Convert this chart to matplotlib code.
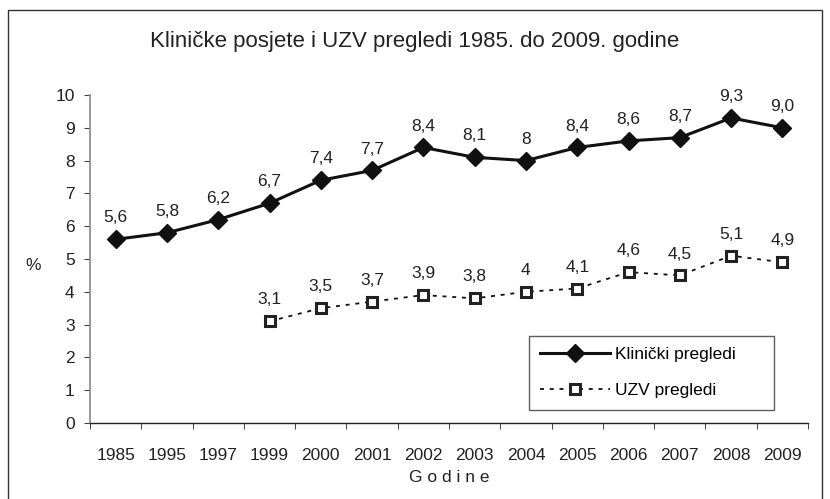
import matplotlib
matplotlib.use("Agg")
import matplotlib.pyplot as plt
from matplotlib.patches import Rectangle
import numpy as np

plt.rcParams['font.family'] = ['Liberation Sans', 'DejaVu Sans']

years = ["1985", "1995", "1997", "1999", "2000", "2001", "2002", "2003", "2004", "2005", "2006", "2007", "2008", "2009"]
klinicki = [5.6, 5.8, 6.2, 6.7, 7.4, 7.7, 8.4, 8.1, 8.0, 8.4, 8.6, 8.7, 9.3, 9.0]
klinicki_labels = ["5,6", "5,8", "6,2", "6,7", "7,4", "7,7", "8,4", "8,1", "8", "8,4", "8,6", "8,7", "9,3", "9,0"]
uzv_years = ["1999", "2000", "2001", "2002", "2003", "2004", "2005", "2006", "2007", "2008", "2009"]
uzv = [3.1, 3.5, 3.7, 3.9, 3.8, 4.0, 4.1, 4.6, 4.5, 5.1, 4.9]
uzv_labels = ["3,1", "3,5", "3,7", "3,9", "3,8", "4", "4,1", "4,6", "4,5", "5,1", "4,9"]
yticks = [0, 1, 2, 3, 4, 5, 6, 7, 8, 9, 10]

FS = 12.5
TXT = '#222222'

fig = plt.figure(figsize=(8.30, 4.99), dpi=100)
W, H = 830, 499
ax = fig.add_axes([90 / W, 1 - 423 / H, (808 - 90) / W, (423 - 95) / H])

x = np.arange(len(years))
ux = np.array([years.index(y) for y in uzv_years])

ax.plot(x, klinicki, color='#111111', lw=2.2, marker='D', ms=9, mfc='#111111', mec='#111111',
        label='Klinički pregledi', zorder=3)
ax.plot(ux, uzv, color='#111111', lw=1.3, ls=(0, (2.2, 3.2)), marker='s', ms=7.5, mfc='white',
        mec='#222222', mew=2.2, label='UZV pregledi', zorder=3)

for xi, v, t in zip(x, klinicki, klinicki_labels):
    ax.annotate(t, (xi, v), xytext=(0, 10), textcoords='offset points', ha='center', va='bottom',
                fontsize=FS, color=TXT)
for xi, v, t in zip(ux, uzv, uzv_labels):
    ax.annotate(t, (xi, v), xytext=(0, 10), textcoords='offset points', ha='center', va='bottom',
                fontsize=FS, color=TXT)

ax.set_xlim(-0.5, len(years) - 0.5)
ax.set_ylim(0, 10)
ax.set_yticks(yticks)
ax.set_yticklabels([str(t) for t in yticks], fontsize=FS, color=TXT)
ax.set_xticks(x)
ax.set_xticklabels(years, fontsize=FS, color=TXT)
ax.set_xticks(np.arange(-0.5, len(years)), minor=True)
ax.tick_params(axis='x', which='major', length=0, pad=18)
ax.tick_params(axis='x', which='minor', length=4, direction='out', color='#222222')
ax.tick_params(axis='y', length=4, direction='out', color='#444444', pad=7)
for s in ['top', 'right']:
    ax.spines[s].set_visible(False)
ax.spines['left'].set_color('#888888')
ax.spines['left'].set_linewidth(1.2)
ax.spines['bottom'].set_color('#222222')
ax.spines['bottom'].set_linewidth(1.0)

ax.set_xlabel('G o d i n e', fontsize=FS, color=TXT, labelpad=5)
fig.text(33 / W, 1 - 266 / H, '%', fontsize=FS, color=TXT, ha='center', va='center')
fig.text(415 / W, 1 - 42 / H, 'Kliničke posjete i UZV pregledi 1985. do 2009. godine',
         fontsize=16, color=TXT, ha='center', va='center')

lx0 = (529 - 90) / (808 - 90)
lw_ = (774 - 529) / (808 - 90)
ly1 = (423 - 336) / (423 - 95)
leg = ax.legend(loc='upper left', bbox_to_anchor=(lx0, ly1 - 0.3, lw_, 0.3), mode='expand',
                borderaxespad=0, fontsize=FS, frameon=True, fancybox=False, edgecolor='#333333',
                handlelength=4.0, borderpad=0.65, labelspacing=1.2, handletextpad=0.3)
leg.get_frame().set_linewidth(1.0)

fig.patches.append(Rectangle((8 / W, -10 / H), (822 - 8) / W, (489 + 10) / H, transform=fig.transFigure,
                             fill=False, edgecolor='#333333', lw=1.0))

fig.savefig('out.png', dpi=100)
